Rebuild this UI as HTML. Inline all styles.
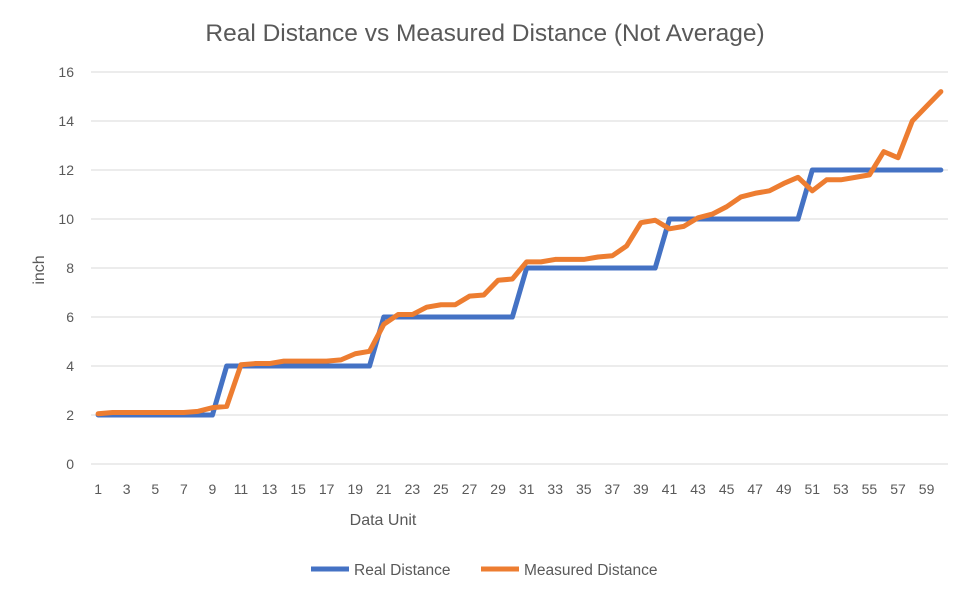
<!DOCTYPE html>
<html><head><meta charset="utf-8"><style>
body{margin:0;background:#fff;font-family:"Liberation Sans",sans-serif}
svg text{font-family:"Liberation Sans",sans-serif}
</style></head><body>
<svg id="c" width="970" height="598">
<rect width="970" height="598" fill="#fff"/>
<text x="485" y="41" text-anchor="middle" font-size="24.5" fill="#595959">Real Distance vs Measured Distance (Not Average)</text>
<g id="grid"></g><g id="ylab"></g><g id="xlab"></g><g id="series"></g>
<text x="383" y="525" text-anchor="middle" font-size="16" fill="#595959">Data Unit</text>
<text transform="translate(44,270) rotate(-90)" text-anchor="middle" font-size="16" fill="#595959">inch</text>
<g>
<g><line x1="311" y1="569" x2="349" y2="569" stroke="#4472C4" stroke-width="5"/><text x="354" y="575" font-size="15.5" fill="#595959">Real Distance</text></g>
<g><line x1="481" y1="569" x2="519" y2="569" stroke="#ED7D31" stroke-width="5"/><text x="524" y="575" font-size="15.5" fill="#595959">Measured Distance</text></g>
</g>
</svg>
<script>
const categories=Array.from({length:60},(_,i)=>i+1);
const realDistance=[2,2,2,2,2,2,2,2,2,4,4,4,4,4,4,4,4,4,4,4,6,6,6,6,6,6,6,6,6,6,8,8,8,8,8,8,8,8,8,8,10,10,10,10,10,10,10,10,10,10,12,12,12,12,12,12,12,12,12,12];
const measuredDistance=[2.05,2.1,2.1,2.1,2.1,2.1,2.1,2.15,2.3,2.35,4.05,4.1,4.1,4.2,4.2,4.2,4.2,4.25,4.5,4.6,5.7,6.1,6.1,6.4,6.5,6.5,6.85,6.9,7.5,7.55,8.25,8.25,8.35,8.35,8.35,8.45,8.5,8.9,9.85,9.95,9.6,9.7,10.05,10.2,10.5,10.9,11.05,11.15,11.45,11.7,11.15,11.6,11.6,11.7,11.8,12.75,12.5,14.0,14.6,15.2];
const yTicks=[0,2,4,6,8,10,12,14,16];
const NS='http://www.w3.org/2000/svg';
const L=91,R=948,T=72,B=464;
const step=(R-L)/categories.length;
const xs=i=>L+step*(i+0.5);
const ys=v=>B-(v/16)*(B-T);
function mk(tag,at,parent){const e=document.createElementNS(NS,tag);for(const k in at)e.setAttribute(k,at[k]);parent.appendChild(e);return e;}
const grid=document.getElementById('grid'),yl=document.getElementById('ylab'),xl=document.getElementById('xlab'),se=document.getElementById('series');
yTicks.forEach(t=>{
 const g=mk('line',{x1:L,x2:R,y1:ys(t),y2:ys(t),stroke:'#d9d9d9','stroke-width':1},grid);
 
 
 const tx=mk('text',{x:74,y:ys(t)+5,'text-anchor':'end','font-size':14,fill:'#595959'},yl);
 tx.textContent=t;
 
 
});
categories.forEach((c,i)=>{
 if(i%2)return;
 const tx=mk('text',{x:xs(i),y:494,'text-anchor':'middle','font-size':14,fill:'#595959'},xl);
 tx.textContent=c;
 
 
});
function line(d,col,name){
 const p=mk('polyline',{points:d.map((v,i)=>xs(i)+','+ys(v)).join(' '),fill:'none',stroke:col,'stroke-width':5,'stroke-linejoin':'round','stroke-linecap':'round'},se);
 
 
}
line(realDistance,'#4472C4','real-distance-line');
line(measuredDistance,'#ED7D31','measured-distance-line');
</script>
</body></html>
